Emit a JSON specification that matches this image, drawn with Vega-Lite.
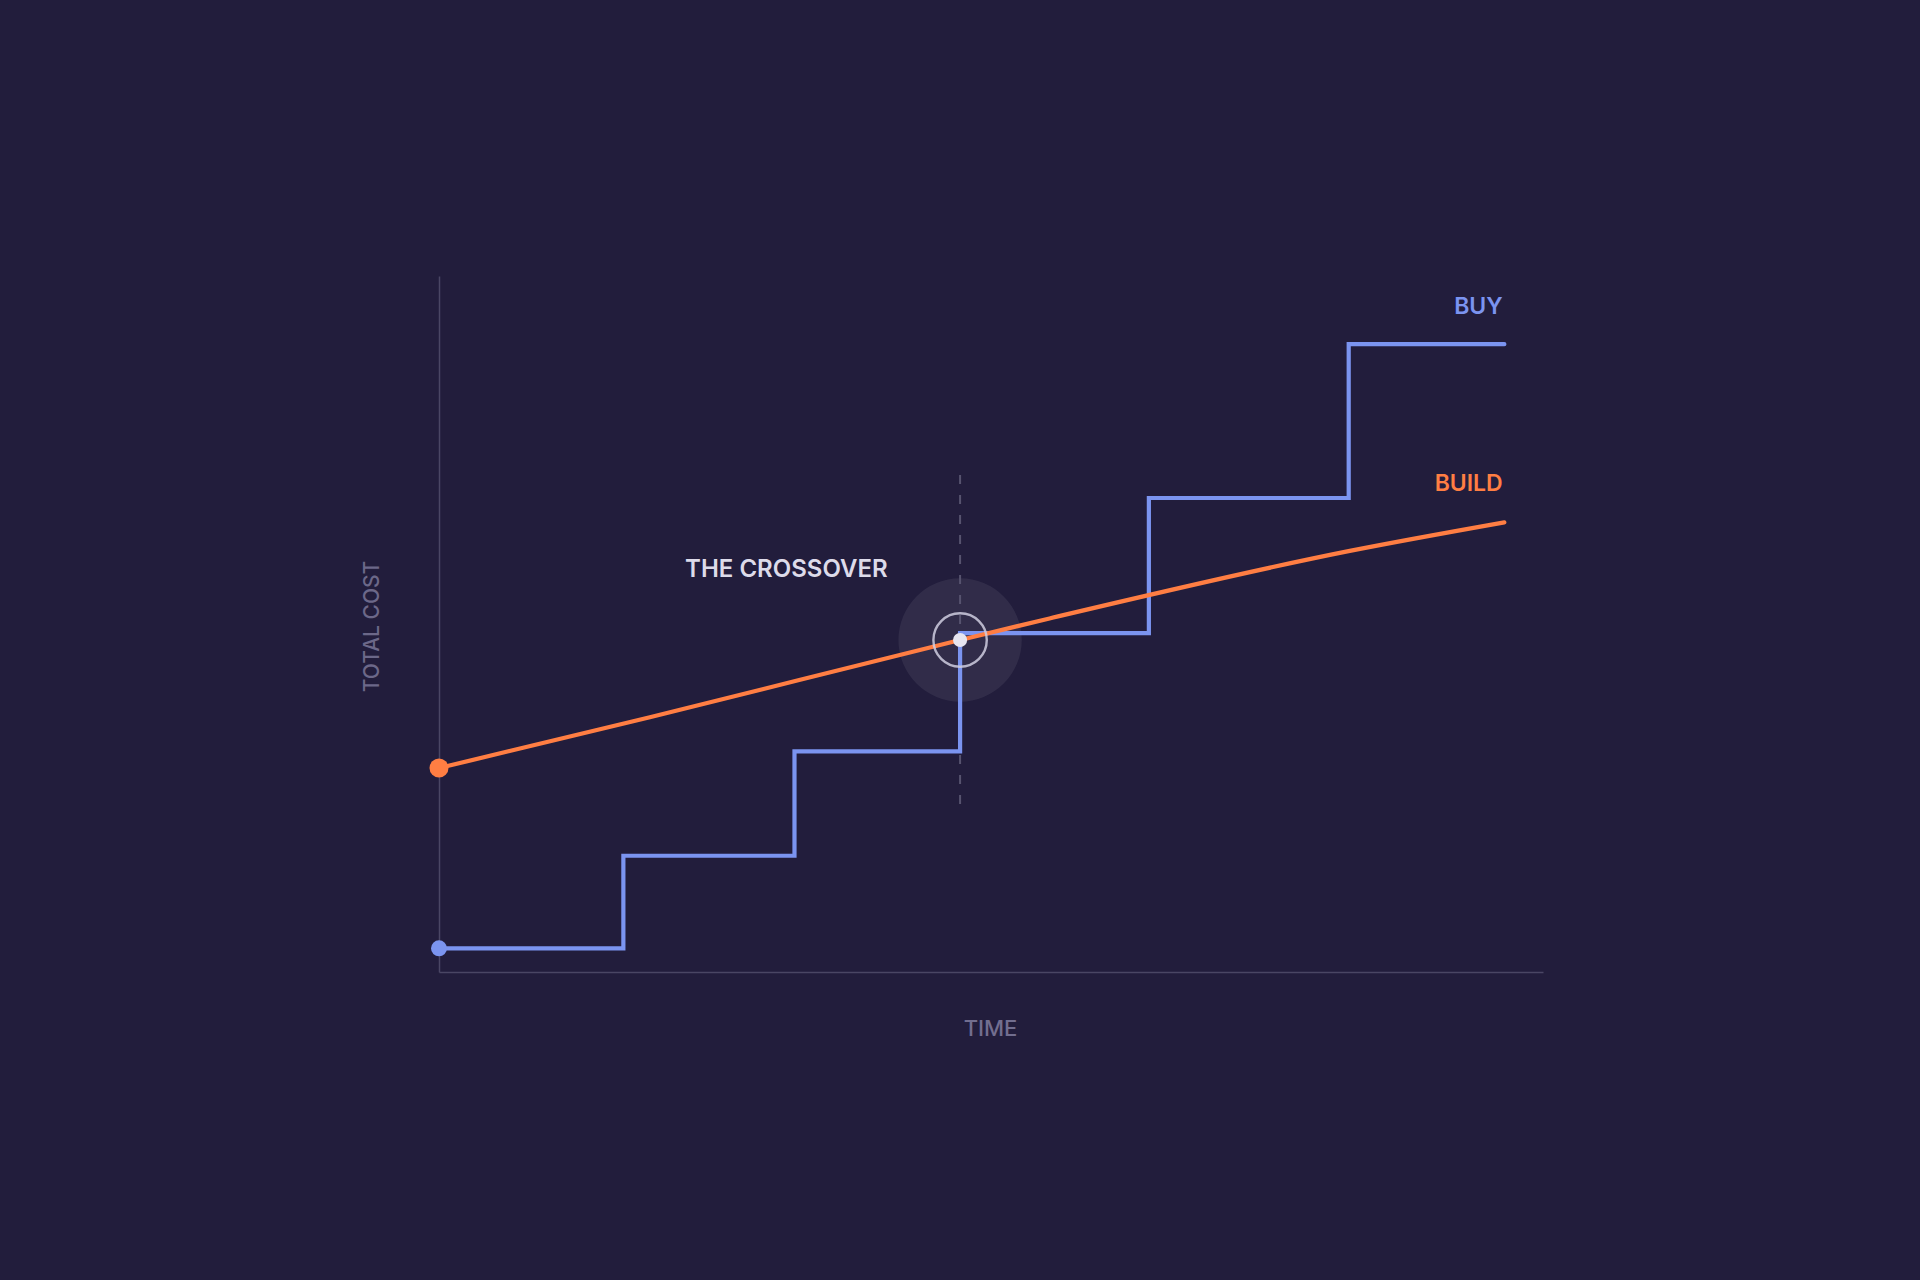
{
  "$schema": "https://vega.github.io/schema/vega-lite/v6.json",
  "width": 1104,
  "height": 696,
  "autosize": {"type": "none"},
  "padding": {"left": 439, "top": 276, "right": 377, "bottom": 308},
  "background": "#221d3c",
  "config": {
    "view": {"stroke": null},
    "axis": {"grid": false, "ticks": false, "labels": false, "domainColor": "#4a4664", "domainWidth": 1.5}
  },
  "datasets": {
    "build": [
      {"t": 0, "cost": 29.3},
      {"t": 19.1, "cost": 36.6},
      {"t": 47.2, "cost": 47.7},
      {"t": 55.3, "cost": 50.8},
      {"t": 82.5, "cost": 60.5},
      {"t": 96.5, "cost": 64.6}
    ],
    "buy": [
      {"t": 0, "cost": 3.4},
      {"t": 16.7, "cost": 16.7},
      {"t": 32.2, "cost": 31.7},
      {"t": 47.2, "cost": 48.7},
      {"t": 64.3, "cost": 68.1},
      {"t": 82.4, "cost": 90.2},
      {"t": 96.5, "cost": 90.2}
    ],
    "cross": [{"t": 47.2, "cost": 47.7, "top": 71.4, "bottom": 24.0}],
    "starts": [
      {"series": "Build", "t": 0, "cost": 29.3},
      {"series": "Buy", "t": 0, "cost": 3.4}
    ],
    "labels": [
      {"series": "Buy", "t": 96.35, "cost": 94.5, "label": "BUY"},
      {"series": "Build", "t": 96.35, "cost": 69.15, "label": "BUILD"}
    ],
    "note": [{"t": 31.46, "cost": 56.8, "label": "THE CROSSOVER"}]
  },
  "layer": [
    {
      "data": {"name": "cross"},
      "mark": {"type": "point", "filled": true, "shape": "circle", "size": 15200, "color": "#ffffff", "opacity": 0.07},
      "encoding": {
        "x": {"field": "t", "type": "quantitative", "scale": {"domain": [0, 100], "nice": false}, "axis": {"title": "TIME", "titleFont": "Inter", "titleFontSize": 22, "titleFontWeight": 500, "titleColor": "#726e8f", "titleX": 551, "titleY": 63, "titleAlign": "center", "titleBaseline": "alphabetic"}},
        "y": {"field": "cost", "type": "quantitative", "scale": {"domain": [0, 100], "nice": false}, "axis": {"title": "TOTAL COST", "titleFont": "Inter", "titleFontSize": 21, "titleFontWeight": 500, "titleColor": "#6c6889", "titleAngle": -90, "titleX": -60.7, "titleY": 350, "titleAlign": "center", "titleBaseline": "alphabetic"}}
      }
    },
    {
      "data": {"name": "cross"},
      "mark": {"type": "rule", "color": "#57536f", "strokeWidth": 2, "strokeDash": [9, 11]},
      "encoding": {
        "x": {"field": "t", "type": "quantitative"},
        "y": {"field": "top", "type": "quantitative"},
        "y2": {"field": "bottom"}
      }
    },
    {
      "data": {"name": "buy"},
      "mark": {"type": "line", "interpolate": "step-after", "color": "#7b94f0", "strokeWidth": 4.2, "strokeCap": "round", "strokeJoin": "miter"},
      "encoding": {
        "x": {"field": "t", "type": "quantitative"},
        "y": {"field": "cost", "type": "quantitative"}
      }
    },
    {
      "data": {"name": "build"},
      "mark": {"type": "line", "interpolate": "monotone", "color": "#ff7e43", "strokeWidth": 4.2, "strokeCap": "round"},
      "encoding": {
        "x": {"field": "t", "type": "quantitative"},
        "y": {"field": "cost", "type": "quantitative"}
      }
    },
    {
      "data": {"name": "starts"},
      "mark": {"type": "point", "filled": true, "shape": "circle", "opacity": 1},
      "encoding": {
        "x": {"field": "t", "type": "quantitative"},
        "y": {"field": "cost", "type": "quantitative"},
        "color": {"field": "series", "type": "nominal", "scale": {"domain": ["Build", "Buy"], "range": ["#ff7e43", "#7b94f0"]}, "legend": null},
        "size": {"field": "series", "type": "nominal", "scale": {"domain": ["Build", "Buy"], "range": [361, 256]}, "legend": null}
      }
    },
    {
      "data": {"name": "cross"},
      "mark": {"type": "point", "filled": false, "shape": "circle", "size": 2850, "stroke": "#cfcde0", "strokeWidth": 2.4, "opacity": 0.85},
      "encoding": {
        "x": {"field": "t", "type": "quantitative"},
        "y": {"field": "cost", "type": "quantitative"}
      }
    },
    {
      "data": {"name": "cross"},
      "mark": {"type": "point", "filled": true, "shape": "circle", "size": 200, "color": "#e6e5f0", "opacity": 1},
      "encoding": {
        "x": {"field": "t", "type": "quantitative"},
        "y": {"field": "cost", "type": "quantitative"}
      }
    },
    {
      "data": {"name": "labels"},
      "mark": {"type": "text", "font": "Inter", "fontSize": 23, "fontWeight": 600, "align": "right", "baseline": "alphabetic"},
      "encoding": {
        "x": {"field": "t", "type": "quantitative"},
        "y": {"field": "cost", "type": "quantitative"},
        "text": {"field": "label"},
        "color": {"field": "series", "type": "nominal", "scale": {"domain": ["Build", "Buy"], "range": ["#ff7e43", "#7b94f0"]}, "legend": null}
      }
    },
    {
      "data": {"name": "note"},
      "mark": {"type": "text", "font": "Inter", "fontSize": 24, "fontWeight": 600, "align": "center", "baseline": "alphabetic", "color": "#dddbea"},
      "encoding": {
        "x": {"field": "t", "type": "quantitative"},
        "y": {"field": "cost", "type": "quantitative"},
        "text": {"field": "label"}
      }
    }
  ]
}
